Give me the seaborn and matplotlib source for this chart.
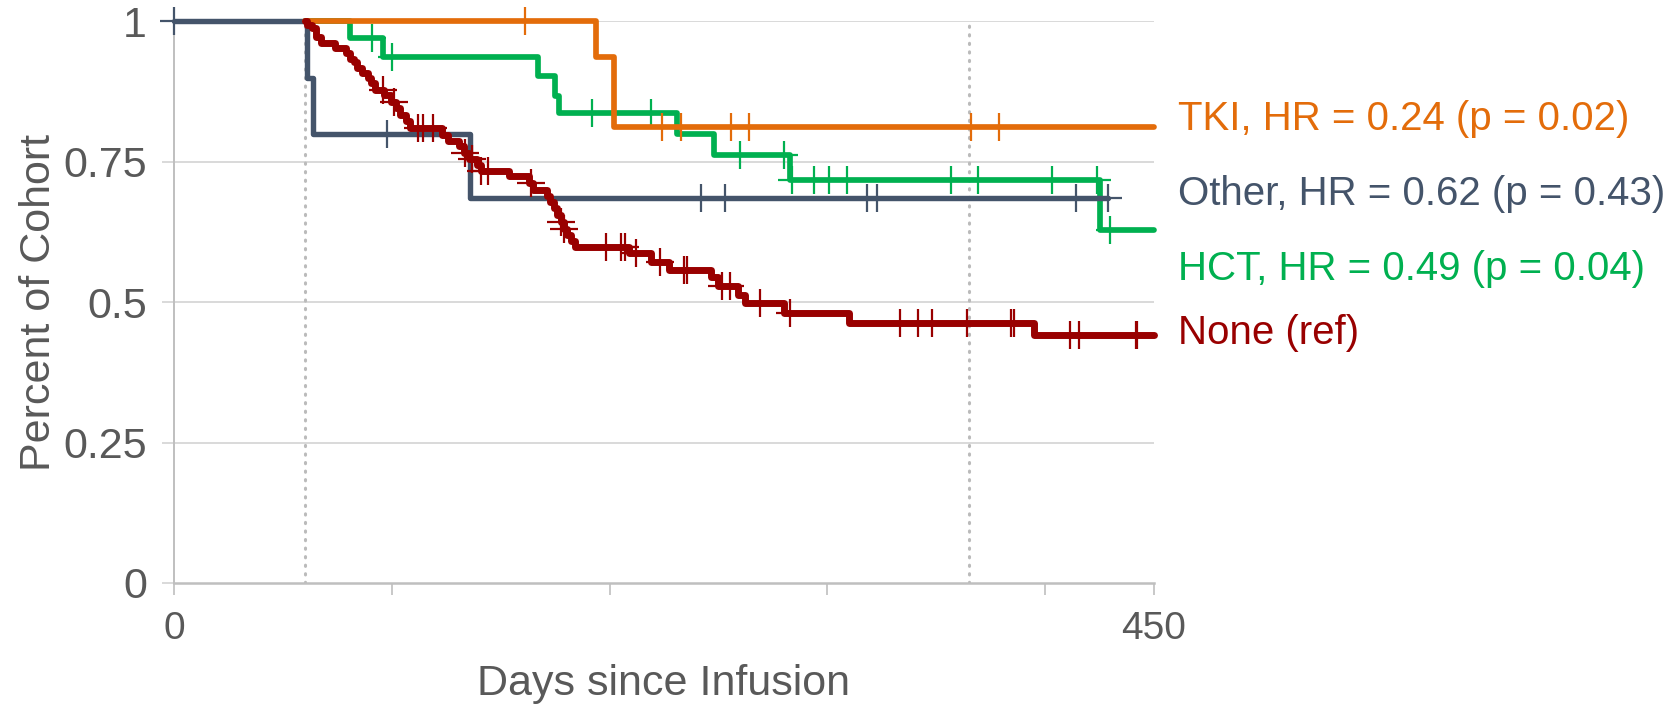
import numpy as np
import pandas as pd
import matplotlib
matplotlib.use("Agg")
import matplotlib.pyplot as plt
import seaborn as sns

# ---- Kaplan-Meier step data (days since infusion, survival after each event) ----
other_start = 0
other_event_days = [61, 64, 136]
other_event_surv = [0.900, 0.800, 0.686]
other_censor_days = [0, 98, 242, 253, 318, 323, 414, 429]
other_end = 429

tki_start = 60
tki_event_days = [194, 202]
tki_event_surv = [0.9375, 0.8125]
tki_censor_days = [161, 224, 233, 256, 264, 366, 379]
tki_end = 450

hct_start = 60
hct_event_days = [81, 96, 167, 175, 177, 231, 248, 283, 425]
hct_event_surv = [0.970, 0.937, 0.903, 0.868, 0.837, 0.799, 0.762, 0.718, 0.629]
hct_censor_days = [91, 100, 192, 219, 260, 280, 284, 294, 301, 309, 357, 369,
                   403, 424, 430]
hct_end = 450

none_start = 60
none_event_days = [61, 63.5, 65, 67.5, 74, 79, 81, 82.5, 84, 86.5, 89, 90.5,
                   92.5, 96.5, 99.5, 102, 104, 106.5, 108.5, 123, 126, 131,
                   133, 135.5, 139, 141, 154, 163, 165, 171.5, 172.5, 174.5,
                   176, 177.5, 179, 180.5, 182.5, 184.3, 209, 219, 227.5,
                   246.5, 250, 259, 262, 280, 310, 395]
none_event_surv = [0.994, 0.988, 0.973, 0.961, 0.952, 0.943, 0.934, 0.928,
                   0.917, 0.908, 0.899, 0.890, 0.878, 0.869, 0.856, 0.846,
                   0.834, 0.822, 0.810, 0.798, 0.788, 0.778, 0.766, 0.755,
                   0.744, 0.733, 0.724, 0.712, 0.700, 0.690, 0.679, 0.667,
                   0.655, 0.643, 0.631, 0.620, 0.609, 0.599, 0.587, 0.572,
                   0.558, 0.545, 0.529, 0.512, 0.498, 0.480, 0.463, 0.441]
none_censor_days = [96, 101, 112, 114.5, 119, 133.5, 137, 141, 144, 163.8,
                    177.5, 179, 198.2, 205.4, 206.9, 212.3, 223.1, 234.2,
                    235.4, 251.5, 255.2, 269.3, 283, 333.3, 341.6, 348.2,
                    364.3, 384.2, 385.7, 411.4, 415.5, 441.6, 442.3]
none_end = 450

group_labels = ["TKI, HR = 0.24 (p = 0.02)", "Other, HR = 0.62 (p = 0.43)",
                "HCT, HR = 0.49 (p = 0.04)", "None (ref)"]
x_tick_days = [0, 100, 200, 300, 400, 450]
x_tick_labels = ["0", "", "", "", "", "450"]
y_ticks = [0, 0.25, 0.5, 0.75, 1]
y_tick_labels = ["0", "0.25", "0.5", "0.75", "1"]
landmark_days = [60, 365]

# ---- styling ----
sns.set_theme(style="white")
plt.rcParams["font.family"] = ["Liberation Sans", "DejaVu Sans"]

C_TKI = "#E36C0A"
C_OTHER = "#44546A"
C_HCT = "#00B050"
C_NONE = "#990000"
GRID = "#D9D9D9"
AXIS = "#BFBFBF"
TEXT = "#595959"

groups = {
    "HCT": dict(start=hct_start, ev=hct_event_days, sv=hct_event_surv,
                cens=hct_censor_days, end=hct_end, color=C_HCT, lw=4.1, z=3),
    "Other": dict(start=other_start, ev=other_event_days, sv=other_event_surv,
                  cens=other_censor_days, end=other_end, color=C_OTHER, lw=3.9, z=4),
    "TKI": dict(start=tki_start, ev=tki_event_days, sv=tki_event_surv,
                cens=tki_censor_days, end=tki_end, color=C_TKI, lw=4.1, z=5),
    "None": dict(start=none_start, ev=none_event_days, sv=none_event_surv,
                 cens=none_censor_days, end=none_end, color=C_NONE, lw=5.0, z=6),
}


def step_frame(g):
    days = [g["start"]] + list(g["ev"]) + [g["end"]]
    surv = [1.0] + list(g["sv"]) + [g["sv"][-1]]
    return pd.DataFrame({"day": days, "surv": surv})


def surv_at(g, t):
    ev = np.asarray(g["ev"])
    sv = np.asarray(g["sv"])
    idx = np.searchsorted(ev, t, side="right") - 1
    return 1.0 if idx < 0 else float(sv[idx])


fig = plt.figure(figsize=(16.78, 7.04), dpi=100)
ax = fig.add_axes([0.1037, 0.1719, 0.5840, 0.7976])

for name, g in groups.items():
    df = step_frame(g)
    sns.lineplot(data=df, x="day", y="surv", drawstyle="steps-post",
                 estimator=None, sort=False, color=g["color"], lw=g["lw"],
                 zorder=g["z"], ax=ax, clip_on=False, legend=False)
    cdf = pd.DataFrame({"day": g["cens"],
                        "surv": [surv_at(g, t) for t in g["cens"]]})
    sns.scatterplot(data=cdf, x="day", y="surv", marker="+", s=420,
                    color=g["color"], linewidth=1.6, zorder=g["z"] + 0.5,
                    ax=ax, clip_on=False, legend=False)

# landmark reference lines
for d in landmark_days:
    ax.plot([d, d], [0, 1], color="#BBBBBB", lw=2.2,
            linestyle=(0, (0.4, 2.4)), dash_capstyle="round", zorder=2)

# horizontal gridlines
for yv in y_ticks[1:]:
    ax.axhline(yv, color=GRID, lw=1.4, zorder=1)

ax.set_xlim(0, 450)
ax.set_ylim(0, 1)
ax.set_xticks(x_tick_days)
ax.set_xticklabels(x_tick_labels)
ax.set_yticks(y_ticks)
ax.set_yticklabels(y_tick_labels)
ax.xaxis.get_major_ticks()[-1].tick1line.set_visible(False)

ax.tick_params(axis="y", direction="out", length=8.5, width=1.4, color=GRID,
               labelsize=31, labelcolor=TEXT, pad=11, left=True)
ax.tick_params(axis="x", direction="out", length=8.5, width=1.2, color=AXIS,
               labelsize=28, labelcolor=TEXT, pad=12, bottom=True)

for s in ["top", "right"]:
    ax.spines[s].set_visible(False)
ax.spines["left"].set_color(AXIS)
ax.spines["left"].set_linewidth(1.4)
ax.spines["bottom"].set_color(AXIS)
ax.spines["bottom"].set_linewidth(1.8)

ax.set_xlabel("Days since Infusion", fontsize=31, color=TEXT, labelpad=12)
ax.set_ylabel("Percent of Cohort", fontsize=31, color=TEXT, labelpad=3)

# group labels at the right-hand end of the curves
label_y = [0.8067, 0.6737, 0.539, 0.425]
label_colors = [C_TKI, C_OTHER, C_HCT, C_NONE]
for txt, yv, col in zip(group_labels, label_y, label_colors):
    ax.text(461, yv, txt, color=col, fontsize=29, ha="left", va="baseline",
            clip_on=False)

fig.savefig("out.png", dpi=100, facecolor="white")
